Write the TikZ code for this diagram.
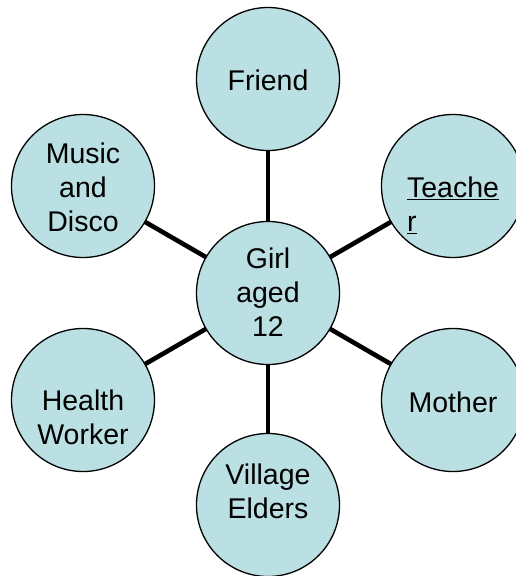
\documentclass[tikz,border=0pt]{standalone}
\usepackage{fontspec}
\setmainfont{Liberation Sans}
\definecolor{bub}{HTML}{BBE0E3}
\begin{document}
\begin{tikzpicture}[x=1pt,y=-1pt,
  bubble/.style={circle,draw=black,line width=1.3pt,fill=bub,minimum size=143pt,inner sep=0pt,outer sep=0pt},
  lbl/.style={align=center,anchor=base,inner sep=0pt,font=\fontsize{28.5}{34}\selectfont},
  link/.style={line width=4.6pt,black}]
\useasboundingbox (0,0) rectangle (515,576);
\node[bubble] (girl) at (268,293) {};
\node[bubble] (friend) at (268,79) {};
\node[bubble] (music) at (83,186) {};
\node[bubble] (teacher) at (453,186) {};
\node[bubble] (health) at (83,400) {};
\node[bubble] (mother) at (453,400) {};
\node[bubble] (elders) at (268,505) {};
\draw[link] (girl) -- (friend);
\draw[link] (girl) -- (music);
\draw[link] (girl) -- (teacher);
\draw[link] (girl) -- (health);
\draw[link] (girl) -- (mother);
\draw[link] (girl) -- (elders);
\node[lbl] (tgirl) at (268,336.7) {Girl\\aged\\12};
\node[lbl] (tfriend) at (268,90.7) {Friend};
\node[lbl] (tmusic) at (83,231.7) {Music\\and\\Disco};
\node[lbl,align=left] (tteacher) at (453,231.7) {\underline{Teache}\\\underline{r}};
\node[lbl] (thealth) at (83,444.7) {Health\\Worker};
\node[lbl] (tmother) at (453,412) {Mother};
\node[lbl] (telders) at (268,518) {Village\\Elders};
\end{tikzpicture}
\end{document}
